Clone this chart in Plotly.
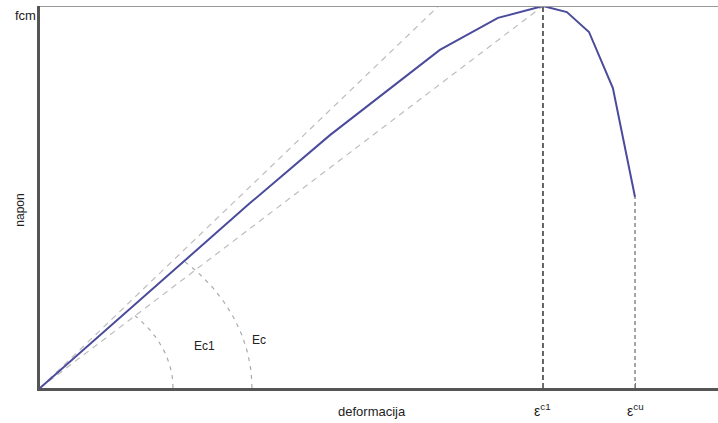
import numpy as np
import plotly.graph_objects as go

# Stress-strain curve of concrete (normalised: fcm = 1, eps_c1 = 2)
strain = [0.0, 0.477, 0.835, 1.153, 1.392, 1.590, 1.821, 2.0, 2.095, 2.183, 2.278, 2.366]
stress = [0.0, 0.277, 0.484, 0.662, 0.785, 0.885, 0.969, 1.0, 0.984, 0.932, 0.785, 0.500]

fcm = 1.0
eps_c1 = 2.0
eps_cu = 2.366
Ec = 0.631          # slope of the dashed tangent line
Ec1 = fcm / eps_c1  # secant modulus to the peak
x_max = 2.696

CURVE = "#4b4b9b"
AXIS = "#555555"
LIGHT = "#bdbdbd"

fig = go.Figure()

# tangent (Ec) and secant (Ec1) lines from the origin
x_tan = fcm / Ec
fig.add_trace(go.Scatter(x=[0, x_tan], y=[0, fcm], mode="lines",
                         line=dict(color=LIGHT, width=1.2, dash="6px,5px"),
                         hoverinfo="skip"))
fig.add_trace(go.Scatter(x=[0, eps_c1], y=[0, fcm], mode="lines",
                         line=dict(color=LIGHT, width=1.2, dash="6px,5px"),
                         hoverinfo="skip"))


def arc(rx, ry, slope):
    t_end = np.arctan(slope * rx / ry)
    t = np.linspace(0, t_end, 40)
    return rx * np.cos(t), ry * np.sin(t)


# angle arcs marking the two moduli
ax1, ay1 = arc(0.529, 0.270, Ec1)
fig.add_trace(go.Scatter(x=ax1, y=ay1, mode="lines",
                         line=dict(color="#aaaaaa", width=1.2, dash="4px,5px"),
                         hoverinfo="skip"))
init_slope = stress[1] / strain[1]
ax2, ay2 = arc(0.843, 0.453, init_slope)
fig.add_trace(go.Scatter(x=ax2, y=ay2, mode="lines",
                         line=dict(color="#aaaaaa", width=1.2, dash="4px,5px"),
                         hoverinfo="skip"))

# vertical guides at the peak strain and the ultimate strain
fig.add_trace(go.Scatter(x=[eps_c1, eps_c1], y=[0, fcm], mode="lines",
                         line=dict(color="#333333", width=1.5, dash="5px,3px"),
                         hoverinfo="skip"))
fig.add_trace(go.Scatter(x=[eps_cu, eps_cu], y=[0, stress[-1]], mode="lines",
                         line=dict(color="#888888", width=1.5, dash="4px,3px"),
                         hoverinfo="skip"))

# the stress-strain curve
fig.add_trace(go.Scatter(x=strain, y=stress, mode="lines",
                         line=dict(color=CURVE, width=2),
                         hoverinfo="skip"))

# top border line at fcm
fig.add_shape(type="line", x0=0, x1=1, xref="paper", y0=fcm, y1=fcm, yref="y",
              line=dict(color="#9a9a9a", width=2))

FAMILY = "Liberation Sans, Arial, sans-serif"
font = dict(family=FAMILY, size=12, color="#222222")
eps_font = dict(family=FAMILY, size=14, color="#222222")

ann = [
    dict(x=0, y=fcm, xref="x", yref="y", text="fcm", showarrow=False,
         xanchor="right", yanchor="middle", xshift=-2, yshift=-9,
         font=dict(family=FAMILY, size=13, color="#222222")),
    dict(x=-0.03, y=0.466, xref="paper", yref="paper", text="napon", showarrow=False,
         xanchor="center", yanchor="middle", textangle=-90, font=font),
    dict(x=1.32, y=0, xref="x", yref="y", text="deformacija", showarrow=False,
         yanchor="top", yshift=-14, font=dict(family=FAMILY, size=13, color="#222222")),
    dict(x=eps_c1, y=0, xref="x", yref="y", text="ε<sup>c1</sup>", showarrow=False,
         yanchor="top", yshift=-11, font=eps_font),
    dict(x=eps_cu, y=0, xref="x", yref="y", text="ε<sup>cu</sup>", showarrow=False,
         yanchor="top", yshift=-11, font=eps_font),
    dict(x=0.655, y=0.11, xref="x", yref="y", text="Ec1", showarrow=False, font=font),
    dict(x=0.87, y=0.125, xref="x", yref="y", text="Ec", showarrow=False, font=font),
]

fig.update_layout(
    width=718, height=423,
    margin=dict(l=40, r=0, t=6, b=35),
    paper_bgcolor="white", plot_bgcolor="white",
    showlegend=False,
    annotations=ann,
    xaxis=dict(range=[0, x_max], showgrid=False, zeroline=False,
               showline=True, linecolor=AXIS, linewidth=2.5,
               ticks="inside", ticklen=5, tickwidth=1.2, tickcolor="#777777",
               tickvals=[eps_c1, eps_cu], showticklabels=False),
    yaxis=dict(range=[0, fcm], showgrid=False, zeroline=False,
               showline=True, linecolor=AXIS, linewidth=2.5,
               showticklabels=False, ticks=""),
)

fig.write_html("out.html")
